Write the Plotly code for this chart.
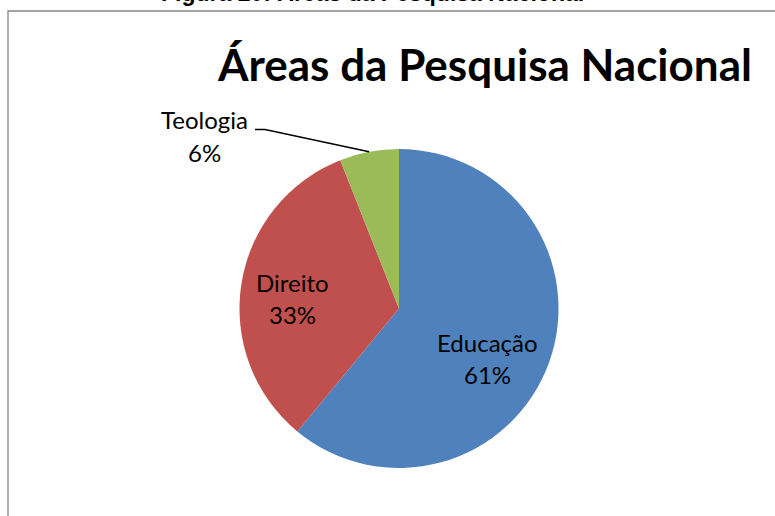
import math
import plotly.graph_objects as go

# ---- data ----
categories = ["Educação", "Direito", "Teologia"]
values = [61, 33, 6]
colors = ["#4F81BD", "#C0504D", "#9BBB59"]
chart_title = "Áreas da Pesquisa Nacional"
caption = "Figura 20: Áreas da Pesquisa Nacional"

# ---- layout constants (pixels) ----
W, H = 775, 516
CX, CY, R = 399, 308.5, 159.5   # pie centre / radius in pixels


def px(x):
    return x / W


def py(y):
    return 1 - y / H


total = sum(values)
pcts = [round(100 * v / total) for v in values]

fig = go.Figure(go.Pie(
    labels=categories,
    values=values,
    sort=False,
    direction="clockwise",
    rotation=0,
    marker=dict(colors=colors, line=dict(width=0)),
    textinfo="none",
    hoverinfo="skip",
    showlegend=False,
    domain=dict(x=[px(CX - R), px(CX + R)], y=[py(CY + R), py(CY - R)]),
))

# mid angles (clockwise from 12 o'clock), from data
mids = []
acc = 0
for v in values:
    mids.append((acc + v / 2) / total * 2 * math.pi)
    acc += v


def polar(angle, frac):
    return CX + frac * R * math.sin(angle), CY - frac * R * math.cos(angle)


label_font = dict(family="Lato, Open Sans, sans-serif", size=24, color="#000000")
# inside labels: radial fraction and a small nudge (dx, dy)
inside = {0: (0.64, (-8, 15)), 1: (0.675, (0, 7))}
annotations = []
for i, (frac, (dx, dy)) in inside.items():
    x, y = polar(mids[i], frac)
    x += dx
    y += dy
    annotations.append(dict(x=px(x), y=py(y - 16), xref="paper", yref="paper",
                            text=categories[i], showarrow=False, font=label_font,
                            xanchor="center", yanchor="middle"))
    annotations.append(dict(x=px(x), y=py(y + 16), xref="paper", yref="paper",
                            text=f"{pcts[i]}%", showarrow=False, font=label_font,
                            xanchor="center", yanchor="middle"))

# Teologia: outside label with leader line
LX, LY = 204, 136
annotations.append(dict(x=px(LX), y=py(LY - 16), xref="paper", yref="paper",
                        text=categories[2], showarrow=False, font=label_font,
                        xanchor="center", yanchor="middle"))
annotations.append(dict(x=px(LX), y=py(LY + 16), xref="paper", yref="paper",
                        text=f"{pcts[2]}%", showarrow=False, font=label_font,
                        xanchor="center", yanchor="middle"))
ex, ey = polar(mids[2], 1.0)
line_path = f"M {px(255)} {py(129.5)} L {px(265)} {py(129.5)} L {px(ex)} {py(ey)}"

# title
annotations.append(dict(x=px(484), y=py(64), xref="paper", yref="paper",
                        text=f"<b>{chart_title}</b>", showarrow=False,
                        font=dict(family="Lato, Open Sans, sans-serif", size=44, color="#000000"),
                        xanchor="center", yanchor="middle"))
# caption (cut at top, as in the reference)
annotations.append(dict(x=px(372), y=py(8), xref="paper", yref="paper",
                        text=f"<b>{caption}</b>", showarrow=False,
                        font=dict(family="Liberation Sans, Arial, sans-serif", size=23, color="#000000"),
                        xanchor="center", yanchor="bottom"))

shapes = [
    dict(type="rect", xref="paper", yref="paper",
         x0=px(8), x1=px(W + 10), y0=py(H + 10), y1=py(11),
         line=dict(color="#868686", width=1.3), fillcolor="rgba(0,0,0,0)"),
    dict(type="path", xref="paper", yref="paper", path=line_path,
         line=dict(color="#000000", width=1.5)),
]

fig.update_layout(
    width=W, height=H,
    margin=dict(l=0, r=0, t=0, b=0),
    paper_bgcolor="white", plot_bgcolor="white",
    annotations=annotations, shapes=shapes,
)

fig.write_html("out.html", config={"displayModeBar": False},
               post_script="document.body.style.margin='0px';")
